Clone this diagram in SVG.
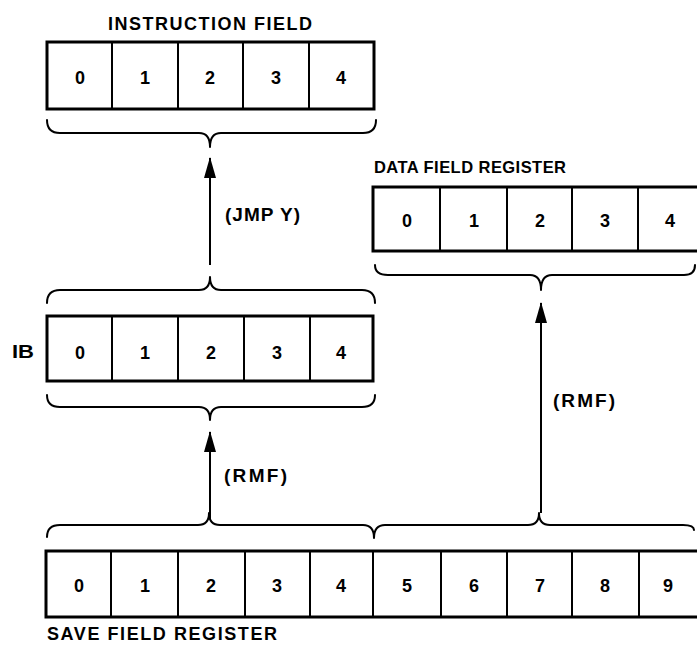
<svg xmlns="http://www.w3.org/2000/svg" width="697" height="645" viewBox="0 0 697 645">
<style>
.box{fill:#fff;stroke:#000;stroke-width:3}
.div{stroke:#000;stroke-width:2}
.brace{fill:none;stroke:#000;stroke-width:2;stroke-linecap:round;stroke-linejoin:round}
.arrow{stroke:#000;stroke-width:2}
.dg{font-family:"Liberation Sans",Arial,sans-serif;font-weight:bold;font-size:18px;text-anchor:middle;fill:#000}
.lbl{font-family:"Liberation Sans",Arial,sans-serif;font-weight:bold;font-size:18px;fill:#000}
.md{font-family:"Liberation Sans",Arial,sans-serif;font-weight:bold;font-size:16.5px;fill:#000}
.sm{font-family:"Liberation Sans",Arial,sans-serif;font-weight:bold;font-size:19px;fill:#000}
</style>
<defs>
<marker id="ah" markerUnits="userSpaceOnUse" markerWidth="22" markerHeight="14" refX="20" refY="7" orient="auto">
<path d="M0,1 L21,7 L0,13 Z" fill="#000"/>
</marker>
</defs>
<rect width="697" height="645" fill="#fff"/>

<g id="instruction-field">
<text class="lbl" x="108" y="30" textLength="204" lengthAdjust="spacing">INSTRUCTION FIELD</text>
<rect class="box" x="47" y="42" width="327" height="67"/>
<line class="div" x1="112" y1="42" x2="112" y2="109"/>
<line class="div" x1="178" y1="42" x2="178" y2="109"/>
<line class="div" x1="243" y1="42" x2="243" y2="109"/>
<line class="div" x1="309" y1="42" x2="309" y2="109"/>
<text class="dg" x="80" y="84">0</text>
<text class="dg" x="145" y="84">1</text>
<text class="dg" x="210" y="84">2</text>
<text class="dg" x="276" y="84">3</text>
<text class="dg" x="341" y="84">4</text>
<path class="brace" d="M47,120 Q47,133 60,133 L199,133 Q210,133 210,147 Q210,133 221,133 L363,133 Q376,133 376,120"/>
</g>

<g id="ib">
<text class="lbl" x="12" y="358" textLength="22" lengthAdjust="spacingAndGlyphs">IB</text>
<path class="brace" d="M47,303 Q47,290 60,290 L199,290 Q210,290 210,277 Q210,290 221,290 L362,290 Q375,290 375,303"/>
<rect class="box" x="47" y="316" width="326" height="65"/>
<line class="div" x1="112" y1="316" x2="112" y2="381"/>
<line class="div" x1="178" y1="316" x2="178" y2="381"/>
<line class="div" x1="244" y1="316" x2="244" y2="381"/>
<line class="div" x1="310" y1="316" x2="310" y2="381"/>
<text class="dg" x="80" y="359">0</text>
<text class="dg" x="145" y="359">1</text>
<text class="dg" x="211" y="359">2</text>
<text class="dg" x="277" y="359">3</text>
<text class="dg" x="341" y="359">4</text>
<path class="brace" d="M47,395 Q47,407 60,407 L199,407 Q210,407 210,420 Q210,407 221,407 L362,407 Q375,407 375,395"/>
</g>

<g id="data-field-register">
<text class="md" x="374" y="173" textLength="192" lengthAdjust="spacing">DATA FIELD REGISTER</text>
<rect class="box" x="373" y="187" width="340" height="64"/>
<line class="div" x1="440" y1="187" x2="440" y2="251"/>
<line class="div" x1="507" y1="187" x2="507" y2="251"/>
<line class="div" x1="572" y1="187" x2="572" y2="251"/>
<line class="div" x1="638" y1="187" x2="638" y2="251"/>
<text class="dg" x="407" y="227">0</text>
<text class="dg" x="474" y="227">1</text>
<text class="dg" x="540" y="227">2</text>
<text class="dg" x="605" y="227">3</text>
<text class="dg" x="670" y="227">4</text>
<path class="brace" d="M375,265 Q375,275 388,275 L530,275 Q541,275 541,290 Q541,275 552,275 L684,275 Q695,275 695,265"/>
</g>

<g id="save-field-register">
<path class="brace" d="M47,537 Q47,525 60,525 L198,525 Q209,525 209,513 Q209,525 220,525 L363,525 Q374,525 374,538 Q374,525 385,525 L528,525 Q539,525 539,513 Q539,525 550,525 L683,525 Q694,525 694,530"/>
<rect class="box" x="46" y="551" width="670" height="66"/>
<line class="div" x1="111" y1="551" x2="111" y2="617"/>
<line class="div" x1="178" y1="551" x2="178" y2="617"/>
<line class="div" x1="245" y1="551" x2="245" y2="617"/>
<line class="div" x1="310" y1="551" x2="310" y2="617"/>
<line class="div" x1="373" y1="551" x2="373" y2="617"/>
<line class="div" x1="441" y1="551" x2="441" y2="617"/>
<line class="div" x1="507" y1="551" x2="507" y2="617"/>
<line class="div" x1="572" y1="551" x2="572" y2="617"/>
<line class="div" x1="639" y1="551" x2="639" y2="617"/>
<text class="dg" x="79" y="592">0</text>
<text class="dg" x="145" y="592">1</text>
<text class="dg" x="211" y="592">2</text>
<text class="dg" x="277" y="592">3</text>
<text class="dg" x="341" y="592">4</text>
<text class="dg" x="407" y="592">5</text>
<text class="dg" x="474" y="592">6</text>
<text class="dg" x="540" y="592">7</text>
<text class="dg" x="605" y="592">8</text>
<text class="dg" x="668" y="592">9</text>
<text class="lbl" x="47" y="640" textLength="230" lengthAdjust="spacing">SAVE FIELD REGISTER</text>
</g>

<g id="connectors">
<line class="arrow" x1="210" y1="265" x2="210" y2="158" marker-end="url(#ah)"/>
<text class="sm" x="225" y="221" textLength="75" lengthAdjust="spacing">(JMP Y)</text>
<line class="arrow" x1="210" y1="519" x2="210" y2="432" marker-end="url(#ah)"/>
<text class="sm" x="224" y="482" textLength="63" lengthAdjust="spacing">(RMF)</text>
<line class="arrow" x1="541" y1="513" x2="541" y2="303" marker-end="url(#ah)"/>
<text class="sm" x="553" y="407" textLength="62" lengthAdjust="spacing">(RMF)</text>
</g>
</svg>
